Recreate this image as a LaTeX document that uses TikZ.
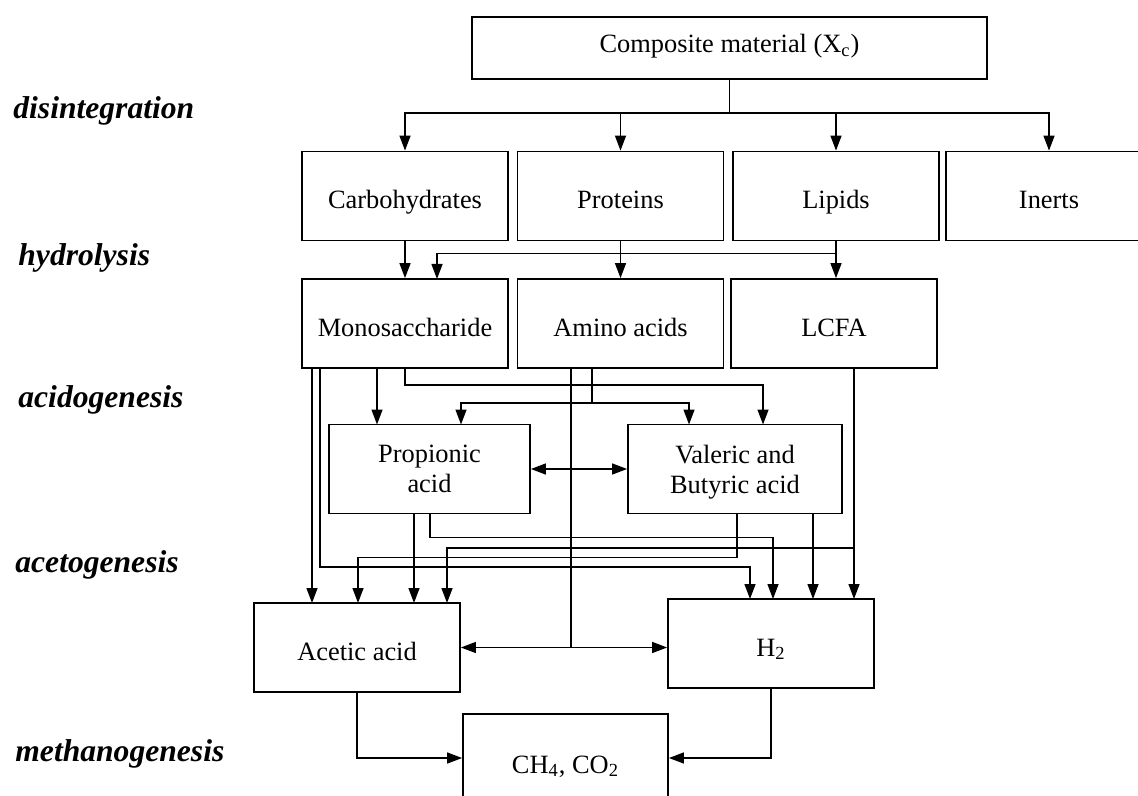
\documentclass[tikz,border=0pt]{standalone}
\usepackage{fontspec}
\setmainfont{Liberation Serif}
\usetikzlibrary{arrows.meta,calc}

\begin{document}
\begin{tikzpicture}
  [x=0.5pt, y=-0.5pt,
   box/.style={draw, rectangle, line width=0.9pt, inner sep=0pt, align=center,
     minimum width=103pt, minimum height=44.5pt, font=\fontsize{13.2}{15}\selectfont},
   single/.style={box, text height=12.5pt, text depth=0pt},
   double/.style={box, text depth=0pt},
   stage/.style={anchor=base west, inner sep=0pt, font=\fontsize{15.8}{18}\selectfont\bfseries\itshape},
   link/.style={line width=0.7pt},
   arr/.style={link, -{Triangle[length=7.5pt,width=5.5pt]}},
   arrs/.style={link, {Triangle[length=7.5pt,width=5.5pt]}-{Triangle[length=7.5pt,width=5.5pt]}}]
  \useasboundingbox (0,0) rectangle (1138,796);
  \clip (0,0) rectangle (1138,796);

  \node[stage] (dis) at (13,119) {disintegration};
  \node[stage] (hyd) at (18,265) {hydrolysis};
  \node[stage] (acid) at (18,407) {acidogenesis};
  \node[stage] (aceto) at (15,572) {acetogenesis};
  \node[stage] (meth) at (15,761) {methanogenesis};

  \node[single, text height=5pt, minimum width=257.5pt, minimum height=31pt] (comp) at (729.5,48) {Composite material (X\textsubscript{c})};
  \node[single] (carb) at (405,196) {Carbohydrates};
  \node[single] (prot) at (620.5,196) {Proteins};
  \node[single] (lip) at (836,196) {Lipids};
  \node[single] (inert) at (1049,196) {Inerts};
  \node[single] (mono) at (405,323.5) {Monosaccharide};
  \node[single] (amino) at (620.5,323.5) {Amino acids};
  \node[single] (lcfa) at (834,323.5) {LCFA};
  \node[double, minimum width=100.5pt] (prop) at (429.5,469) {Propionic\\acid};
  \node[double, minimum width=107pt] (valer) at (735,469) {Valeric and\\Butyric acid};
  \node[single] (acetic) at (357,647.5) {Acetic acid};
  \node[single] (htwo) at (771,643.5) {H\textsubscript{2}};
  \node[single, text height=8pt, minimum width=102.5pt, minimum height=51pt] (ch) at (565.5,765) {CH\textsubscript{4}, CO\textsubscript{2}};

  \coordinate (split) at (729.5,113);
  \coordinate (gly) at (437,279);
  \coordinate (m1) at (312,368);
  \coordinate (m2) at (320,368);
  \coordinate (m3) at (377,368);
  \coordinate (a1) at (571,368);
  \coordinate (a2) at (592,368);
  \coordinate (l1) at (854,368);
  \coordinate (pt1) at (377,424.5);
  \coordinate (pt2) at (461,424.5);
  \coordinate (vt1) at (689,424.5);
  \coordinate (vt2) at (763,424.5);
  \coordinate (p1) at (414,513.5);
  \coordinate (p2) at (430,513.5);
  \coordinate (v1) at (737,513.5);
  \coordinate (v2) at (813,513.5);
  \coordinate (ac1) at (312,603);
  \coordinate (ac2) at (358,603);
  \coordinate (ac3) at (414,603);
  \coordinate (ac4) at (447,603);
  \coordinate (h1) at (750,599);
  \coordinate (h2) at (773,599);
  \coordinate (h3) at (813,599);
  \coordinate (h4) at (854,599);
  \coordinate (j) at (571,647.5);

  \draw[link] (comp) -- (split);
  \foreach \n in {carb,prot,lip,inert}
    \draw[arr] (split) -| (\n);
  \draw[arr] (carb) -- (mono);
  \draw[arr] (prot) -- (amino);
  \draw[arr] (lip.south) -- (lip.south |- lcfa.north);
  \draw[arr] (lip.south) -- ++(0,12) -| (gly);

  \draw[arr] (m1) -- (ac1);
  \draw[arr] (m2) -- ++(0,199) -| (h1);
  \draw[arr] (m3) -- (pt1);
  \draw[arr] (mono.south) -- ++(0,16) -| (vt2);
  \draw[link] (a1) -- (j);
  \draw[arr] (j) -- (acetic.east);
  \draw[arr] (j) -- (j -| htwo.west);
  \draw[link] (a2) -- ++(0,35) coordinate (ab);
  \draw[arr] (ab) -| (pt2);
  \draw[arr] (ab) -| (vt1);
  \draw[arrs] (prop.east) -- (valer.west);

  \draw[arr] (p1) -- (ac3);
  \draw[arr] (p2) -- ++(0,24) -| (h2);
  \draw[arr] (v1) -- ++(0,44) -| (ac2);
  \draw[arr] (v2) -- (h3);
  \draw[arr] (l1) -- (h4);
  \draw[arr] (l1) -- ++(0,180) -| (ac4);

  \draw[arr] (acetic.south) |- ($(ch.west)+(0,-7)$);
  \draw[arr] (htwo.south) |- ($(ch.east)+(0,-7)$);
\end{tikzpicture}
\end{document}
